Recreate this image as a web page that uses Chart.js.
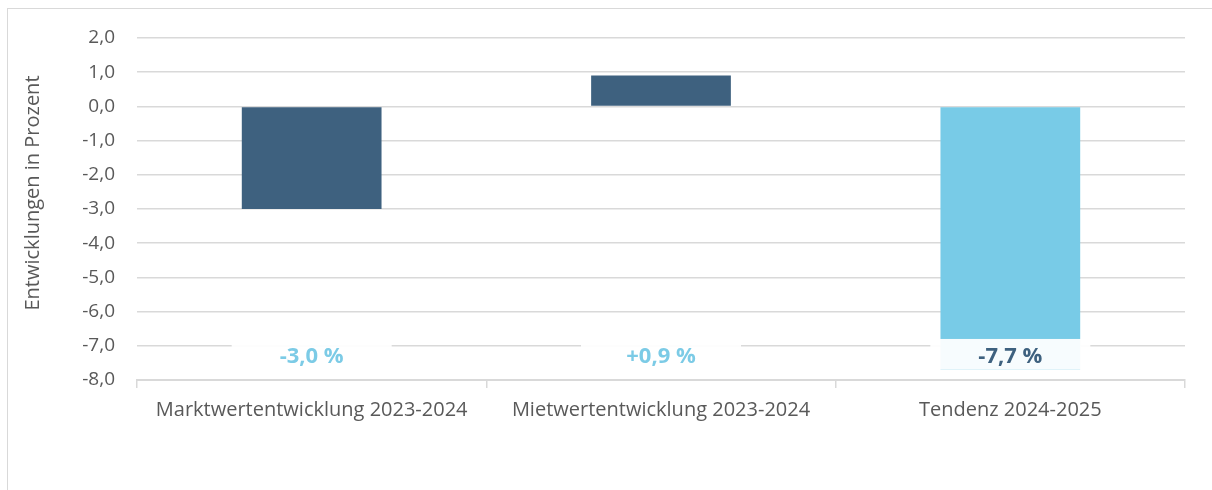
<!DOCTYPE html>
<html>
<head>
<meta charset="utf-8">
<script src="https://cdn.jsdelivr.net/npm/chart.js@4/dist/chart.umd.min.js"></script>
<style>
  body { margin: 0; background: #fff; }
  #rahmen { position: absolute; left: 7px; top: 8px; width: 1230px; height: 520px; border: 1.5px solid #d9d9d9; }
  #wrap { position: absolute; left: 0; top: 0; width: 1212px; height: 490px; }
</style>
</head>
<body>
<div id="rahmen"></div>
<div id="wrap"><canvas id="chart"></canvas></div>
<script>
  // Daten
  const kategorien = ['Marktwertentwicklung 2023-2024', 'Mietwertentwicklung 2023-2024', 'Tendenz 2024-2025'];
  const werte = [-3.0, 0.9, -7.7];
  const beschriftungen = ['-3,0 %', '+0,9 %', '-7,7 %'];
  const balkenFarben = ['#3e617f', '#3e617f', '#78cbe7'];
  const textFarben = ['#7ccbe6', '#7ccbe6', '#3e617f'];
  const achsenTitel = 'Entwicklungen in Prozent';

  const schrift = "'Open Sans', 'DejaVu Sans', sans-serif";
  const grau = '#595959';

  // Wertbeschriftungen unten im Diagramm (mit halbtransparentem Kasten) + Achsentitel
  const labelPlugin = {
    id: 'labels',
    afterDatasetsDraw(chart) {
      const { ctx, scales: { y } } = chart;
      const meta = chart.getDatasetMeta(0);
      const top = y.getPixelForValue(-6.8);
      const bottom = y.getPixelForValue(-7.7);
      ctx.save();
      meta.data.forEach((bar, i) => {
        const cx = bar.x;
        ctx.fillStyle = 'rgba(255,255,255,0.94)';
        ctx.fillRect(cx - 80, top, 160, bottom - top);
        ctx.fillStyle = textFarben[i];
        ctx.font = "bold 22px " + schrift;
        ctx.textAlign = 'center';
        ctx.textBaseline = 'middle';
        ctx.fillText(beschriftungen[i], cx, (top + bottom) / 2 + 2);
      });
      // Achsentitel
      ctx.translate(33, 193);
      ctx.rotate(-Math.PI / 2);
      ctx.fillStyle = grau;
      ctx.font = "20px " + schrift;
      ctx.fillText(achsenTitel, 0, 0);
      ctx.restore();
    }
  };

  new Chart(document.getElementById('chart'), {
    type: 'bar',
    data: {
      labels: kategorien,
      datasets: [{
        data: werte,
        backgroundColor: balkenFarben,
        barPercentage: 0.4,
        categoryPercentage: 1.0
      }]
    },
    options: {
      responsive: true,
      maintainAspectRatio: false,
      animation: false,
      layout: { padding: { left: 0, top: 38, right: 27, bottom: 0 } },
      plugins: { legend: { display: false }, tooltip: { enabled: false } },
      scales: {
        x: {
          afterFit(scale) { scale.height = 110; },
          grid: { drawOnChartArea: false, color: '#d9d9d9', tickLength: 8, lineWidth: 1.5, offset: true },
          border: { color: '#d9d9d9', width: 2 },
          ticks: { color: grau, font: { family: schrift, size: 20 }, padding: 10, maxRotation: 0 }
        },
        y: {
          min: -8, max: 2,
          afterFit(scale) { scale.width = 137; },
          grid: { color: '#d9d9d9', lineWidth: 1.5, drawTicks: false },
          border: { display: false },
          ticks: {
            stepSize: 1, color: grau, padding: 22,
            font: { family: schrift, size: 19 },
            callback: v => v.toFixed(1).replace('.', ',')
          }
        }
      }
    },
    plugins: [labelPlugin]
  });
</script>
</body>
</html>
